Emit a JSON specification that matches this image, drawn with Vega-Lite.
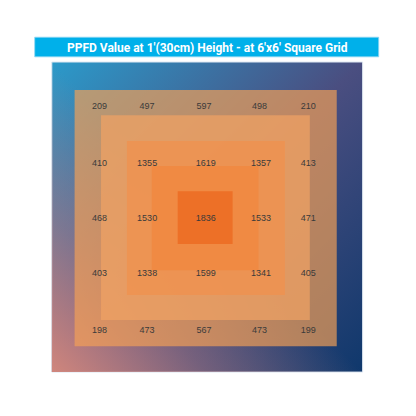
{
  "$schema": "https://vega.github.io/schema/vega-lite/v6.json",
  "width": 416,
  "height": 416,
  "autosize": {"type": "fit", "contains": "padding"},
  "padding": 0,
  "background": "white",
  "view": {"stroke": null},
  "datasets": {
    "grid": [{"x1": -3, "x2": 3, "y1": 3, "y2": -3}],
    "zones": [
      {"zone": "A", "x1": -2.56, "x2": 2.50, "y1": 2.46, "y2": -2.50},
      {"zone": "B", "x1": -2.05, "x2": 1.98, "y1": 1.97, "y2": -1.99},
      {"zone": "C", "x1": -1.55, "x2": 1.50, "y1": 1.47, "y2": -1.51},
      {"zone": "D", "x1": -1.07, "x2": 0.99, "y1": 0.99, "y2": -1.03},
      {"zone": "E", "x1": -0.57, "x2": 0.49, "y1": 0.50, "y2": -0.52}
    ],
    "ppfd": [
      {"x": -2.08, "y": 2.15, "v": 209}, {"x": -1.16, "y": 2.15, "v": 497}, {"x": -0.06, "y": 2.15, "v": 597}, {"x": 1.01, "y": 2.15, "v": 498}, {"x": 1.95, "y": 2.15, "v": 210},
      {"x": -2.08, "y": 1.04, "v": 410}, {"x": -1.16, "y": 1.04, "v": 1355}, {"x": -0.03, "y": 1.04, "v": 1619}, {"x": 1.04, "y": 1.04, "v": 1357}, {"x": 1.95, "y": 1.04, "v": 413},
      {"x": -2.08, "y": -0.01, "v": 468}, {"x": -1.16, "y": -0.01, "v": 1530}, {"x": -0.03, "y": -0.01, "v": 1836}, {"x": 1.04, "y": -0.01, "v": 1533}, {"x": 1.95, "y": -0.01, "v": 471},
      {"x": -2.08, "y": -1.08, "v": 403}, {"x": -1.16, "y": -1.08, "v": 1338}, {"x": -0.03, "y": -1.08, "v": 1599}, {"x": 1.04, "y": -1.08, "v": 1341}, {"x": 1.95, "y": -1.08, "v": 405},
      {"x": -2.08, "y": -2.18, "v": 198}, {"x": -1.16, "y": -2.18, "v": 473}, {"x": -0.06, "y": -2.18, "v": 567}, {"x": 1.01, "y": -2.18, "v": 473}, {"x": 1.95, "y": -2.18, "v": 199}
    ]
  },
  "encoding": {
    "x": {"type": "quantitative", "scale": {"domain": [-4.0, 4.03], "nice": false, "zero": false}, "axis": null},
    "y": {"type": "quantitative", "scale": {"domain": [-3.85, 4.2], "nice": false, "zero": false}, "axis": null}
  },
  "layer": [
    {
      "data": {"name": "grid"},
      "mark": {"type": "rect", "stroke": "#dfe8f2", "strokeWidth": 1,
        "color": {"gradient": "linear", "x1": 0, "y1": 0, "x2": 1, "y2": 1,
          "stops": [
            {"offset": 0, "color": "#2b9aca"},
            {"offset": 0.5, "color": "#4a4e80"},
            {"offset": 1, "color": "#0f386c"}
          ]}},
      "encoding": {"x": {"field": "x1"}, "x2": {"field": "x2"}, "y": {"field": "y1"}, "y2": {"field": "y2"}}
    },
    {
      "data": {"name": "grid"},
      "mark": {"type": "rect",
        "color": {"gradient": "linear", "x1": 0, "y1": 1, "x2": 1, "y2": 0,
          "stops": [
            {"offset": 0, "color": "rgba(208,134,124,1)"},
            {"offset": 0.25, "color": "rgba(200,130,130,0.45)"},
            {"offset": 0.5, "color": "rgba(200,130,130,0)"},
            {"offset": 1, "color": "rgba(200,130,130,0)"}
          ]}},
      "encoding": {"x": {"field": "x1"}, "x2": {"field": "x2"}, "y": {"field": "y1"}, "y2": {"field": "y2"}}
    },
    {
      "data": {"name": "zones"},
      "mark": {"type": "rect"},
      "encoding": {
        "x": {"field": "x1"}, "x2": {"field": "x2"}, "y": {"field": "y1"}, "y2": {"field": "y2"},
        "color": {"field": "zone", "type": "nominal", "legend": null,
          "scale": {"domain": ["A", "B", "C", "D", "E"], "range": ["#f5a055", "#f0a264", "#ef914f", "#f0883f", "#ec6b22"]}},
        "opacity": {"field": "zone", "type": "nominal", "legend": null,
          "scale": {"domain": ["A", "B", "C", "D", "E"], "range": [0.68, 0.85, 0.9, 0.92, 1]}}
      }
    },
    {
      "data": {"name": "ppfd"},
      "mark": {"type": "text", "font": "Liberation Sans", "fontSize": 9, "color": "#3a3a3a", "align": "center", "baseline": "middle"},
      "encoding": {"x": {"field": "x"}, "y": {"field": "y"}, "text": {"field": "v", "type": "nominal"}}
    },
    {
      "data": {"values": [{"t": "PPFD Value at 1'(30cm) Height - at 6'x6' Square Grid"}]},
      "mark": {"type": "rect", "color": "#00b0ea", "stroke": "#8fd6f2", "strokeWidth": 0.8},
      "encoding": {"x": {"datum": -3.33}, "x2": {"datum": 3.31}, "y": {"datum": 3.48}, "y2": {"datum": 3.10}}
    },
    {
      "data": {"values": [{"t": "PPFD Value at 1'(30cm) Height - at 6'x6' Square Grid"}]},
      "mark": {"type": "text", "font": "Roboto", "fontWeight": "bold", "fontSize": 12, "color": "white", "align": "center", "baseline": "middle", "dy": 1},
      "encoding": {"x": {"datum": 0}, "y": {"datum": 3.29}, "text": {"field": "t", "type": "nominal"}}
    }
  ]
}
